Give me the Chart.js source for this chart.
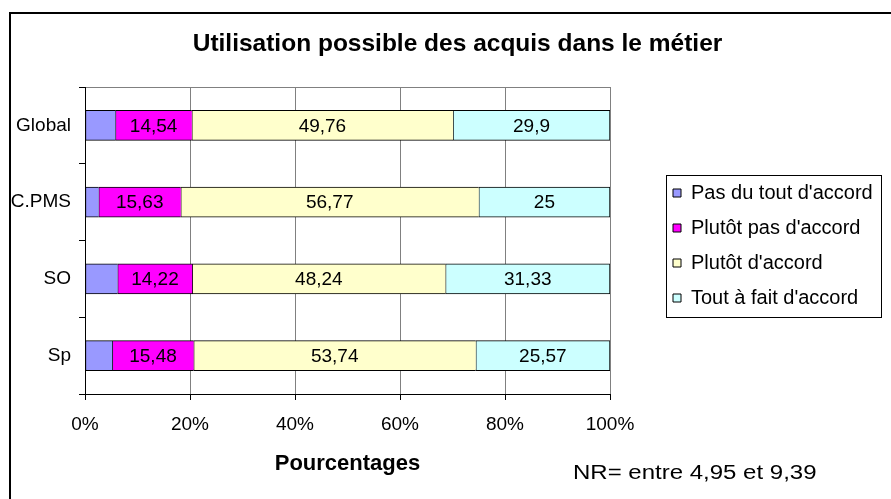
<!DOCTYPE html>
<html>
<head>
<meta charset="utf-8">
<script src="https://cdn.jsdelivr.net/npm/chart.js@4/dist/chart.umd.min.js"></script>
<style>
  html, body { margin: 0; padding: 0; background: #fff; }
  canvas { display: block; }
</style>
</head>
<body>
<canvas id="c" width="891" height="499"></canvas>
<script>
// ---- Data ----
const categories = ['Global', 'C.PMS', 'SO', 'Sp'];
const seriesNames = ["Pas du tout d'accord", "Plutôt pas d'accord", "Plutôt d'accord", "Tout à fait d'accord"];
const pasDuTout = [5.8, 2.6, 6.21, 5.21];
const plutotPas = [14.54, 15.63, 14.22, 15.48];
const plutot = [49.76, 56.77, 48.24, 53.74];
const toutAFait = [29.9, 25, 31.33, 25.57];
const xTicks = [0, 20, 40, 60, 80, 100];
const titleText = 'Utilisation possible des acquis dans le métier';
const xTitle = 'Pourcentages';
const noteText = 'NR= entre 4,95 et 9,39';
const labelledSeries = [false, true, true, true];

// ---- Styles ----
const colors = ['#9999FF', '#FF00FF', '#FFFFCC', '#CCFFFF'];
const FONT = '"Liberation Sans", Arial, Helvetica, sans-serif';
Chart.defaults.font.family = FONT;
Chart.defaults.color = '#000';

const seriesValues = [pasDuTout, plutotPas, plutot, toutAFait];
const datasets = seriesValues.map((vals, i) => ({
  label: seriesNames[i],
  data: vals,
  yAxisID: 'y',
  backgroundColor: colors[i],
  borderColor: '#000',
  borderWidth: i === seriesValues.length - 1 ? {left: 1, right: 1, top: 1, bottom: 1} : {left: 1, right: 0, top: 1, bottom: 1},
  borderSkipped: false,
  barThickness: 30
}));

const fmt = v => String(v).replace('.', ',');

const decor = {
  id: 'decor',
  beforeDraw(chart) {
    const ctx = chart.ctx;
    ctx.save();
    ctx.fillStyle = '#fff';
    ctx.fillRect(0, 0, chart.width, chart.height);
    ctx.strokeStyle = '#000';
    ctx.lineWidth = 2;
    ctx.strokeRect(10, 13, 1000, 1000);
    ctx.restore();
  },
  afterLayout(chart) {
    const lg = chart.legend;
    lg.left = 658; lg.width = 228; lg.right = lg.left + lg.width;
    lg.top = 168; lg.bottom = 491; lg.height = lg.bottom - lg.top;
    const tb = chart.titleBlock;
    tb.left = 24; tb.right = 891; tb.width = tb.right - tb.left;
  },
  afterDatasetsDraw(chart) {
    const ctx = chart.ctx;
    ctx.save();
    ctx.font = '19px ' + FONT;
    ctx.fillStyle = '#000';
    ctx.textAlign = 'center';
    ctx.textBaseline = 'middle';
    chart.data.datasets.forEach((ds, di) => {
      if (!labelledSeries[di]) return;
      const meta = chart.getDatasetMeta(di);
      meta.data.forEach((el, j) => {
        const p = el.getProps(['x', 'y', 'base'], true);
        ctx.fillText(fmt(ds.data[j]), (p.x + p.base) / 2, p.y + 1);
      });
    });
    ctx.restore();
  },
  afterDraw(chart) {
    const ctx = chart.ctx;
    const lg = chart.legend;
    ctx.save();
    ctx.strokeStyle = '#000';
    ctx.lineWidth = 1;
    ctx.strokeRect(Math.round(lg.left + 8) + 0.5, Math.round(lg.top + 7) + 0.5, 215, 142);
    ctx.font = '20px ' + FONT;
    ctx.fillStyle = '#000';
    ctx.textAlign = 'left';
    ctx.textBaseline = 'middle';
    ctx.translate(573, 473);
    ctx.scale(1.2, 1);
    ctx.fillText(noteText, 0, 0);
    ctx.restore();
  }
};

new Chart(document.getElementById('c'), {
  type: 'bar',
  data: { labels: categories, datasets },
  options: {
    indexAxis: 'y',
    responsive: false,
    animation: false,
    devicePixelRatio: 1,
    layout: { padding: { left: 0, right: 0, top: 0, bottom: 0 } },
    scales: {
      x: {
        stacked: true,
        min: 0, max: 100,
        afterBuildTicks: s => { s.ticks = xTicks.map(v => ({ value: v })); },
        ticks: { callback: v => v + '%', font: { size: 19 }, padding: 13, color: '#000', maxRotation: 0 },
        grid: { color: '#808080', tickColor: '#000', tickLength: 6, lineWidth: 1 },
        border: { color: '#000', width: 1 },
        title: { display: true, text: xTitle, font: { size: 22, weight: 'bold' }, padding: { top: 0, bottom: 22 }, color: '#000' },
        afterFit: s => { s.height = 105; }
      },
      y: {
        stacked: true,
        ticks: { font: { size: 19 }, padding: 8, color: '#000' },
        grid: {
          offset: true,
          color: c => c.index === 0 ? '#808080' : 'rgba(0,0,0,0)',
          tickColor: '#000', tickLength: 6, lineWidth: 1
        },
        border: { color: '#000', width: 1 },
        afterFit: s => { s.width = 85; }
      },
      y2: {
        type: 'category',
        position: 'right',
        display: true,
        grid: { display: false },
        ticks: { display: false },
        border: { display: false },
        afterFit: s => { s.width = Math.max(0, 891 - s.chart.legend.width - 610); }
      }
    },
    plugins: {
      title: {
        display: true, text: titleText,
        font: { size: 24.5, weight: 'bold' },
        color: '#000',
        padding: { top: 30, bottom: 27.6 }
      },
      legend: {
        position: 'right',
        align: 'start',
        labels: {
          boxWidth: 8, boxHeight: 8, padding: 15,
          font: { size: 20 }, color: '#000',
          generateLabels: chart => Chart.defaults.plugins.legend.labels.generateLabels(chart).map(l => Object.assign(l, { lineWidth: 1, strokeStyle: '#000' }))
        }
      },
      tooltip: { enabled: false }
    }
  },
  plugins: [decor]
});
</script>
</body>
</html>
